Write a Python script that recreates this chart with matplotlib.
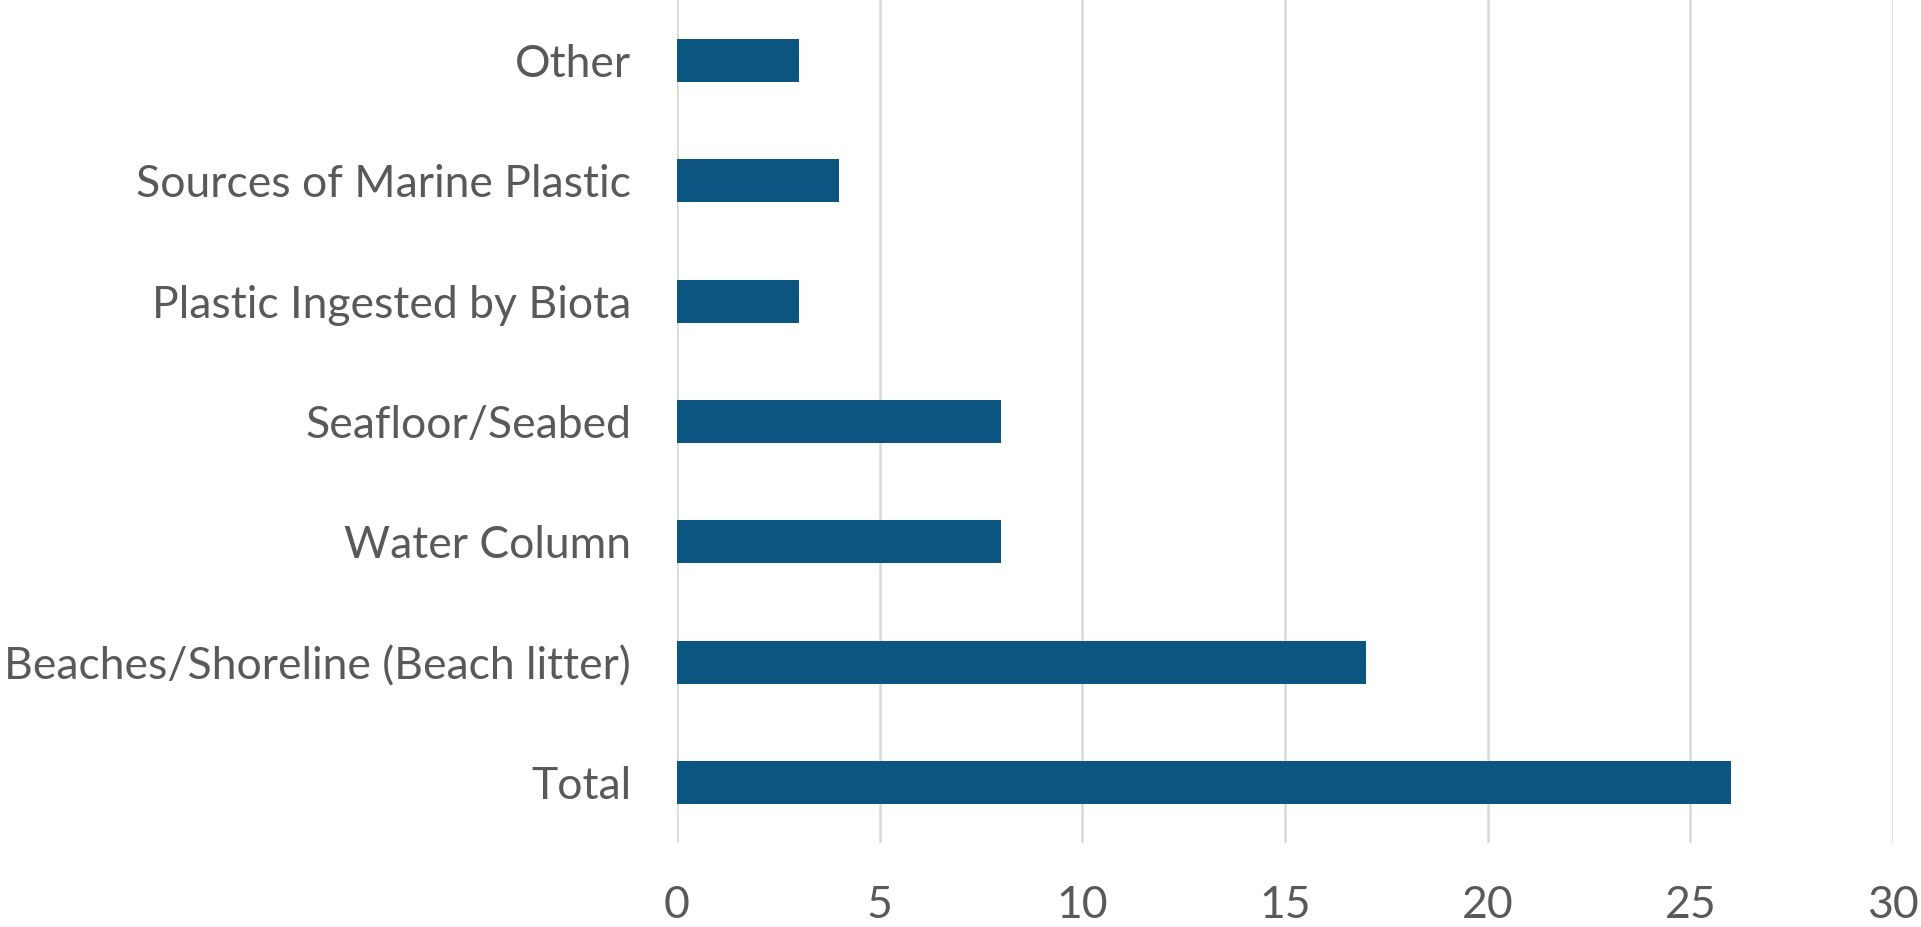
import matplotlib.pyplot as plt

# Data (bottom to top)
categories = ['Total', 'Beaches/Shoreline (Beach litter)', 'Water Column',
              'Seafloor/Seabed', 'Plastic Ingested by Biota',
              'Sources of Marine Plastic', 'Other']
counts = [26, 17, 8, 8, 3, 4, 3]
x_ticks = [0, 5, 10, 15, 20, 25, 30]

plt.rcParams['font.family'] = ['Lato', 'DejaVu Sans']

fig = plt.figure(figsize=(19.21, 9.27), dpi=100)
ax = fig.add_axes([0.3524, 0.0906, 0.9854 - 0.3524, 0.9094])

ax.barh(categories, counts, height=0.357, color='#0b5580', zorder=3)

ax.set_xlim(0, 30)
ax.set_ylim(-0.5, len(categories) - 0.5)
ax.set_xticks(x_ticks)
ax.xaxis.grid(True, color='#d9d9d9', linewidth=1.8, zorder=0)
ax.yaxis.grid(False)

for side in ['top', 'right', 'bottom', 'left']:
    ax.spines[side].set_visible(False)

ax.tick_params(axis='both', length=0, colors='#595959', labelsize=32)
ax.tick_params(axis='y', pad=33)
ax.tick_params(axis='x', pad=30)

fig.savefig('out.png', dpi=100, facecolor='white')
